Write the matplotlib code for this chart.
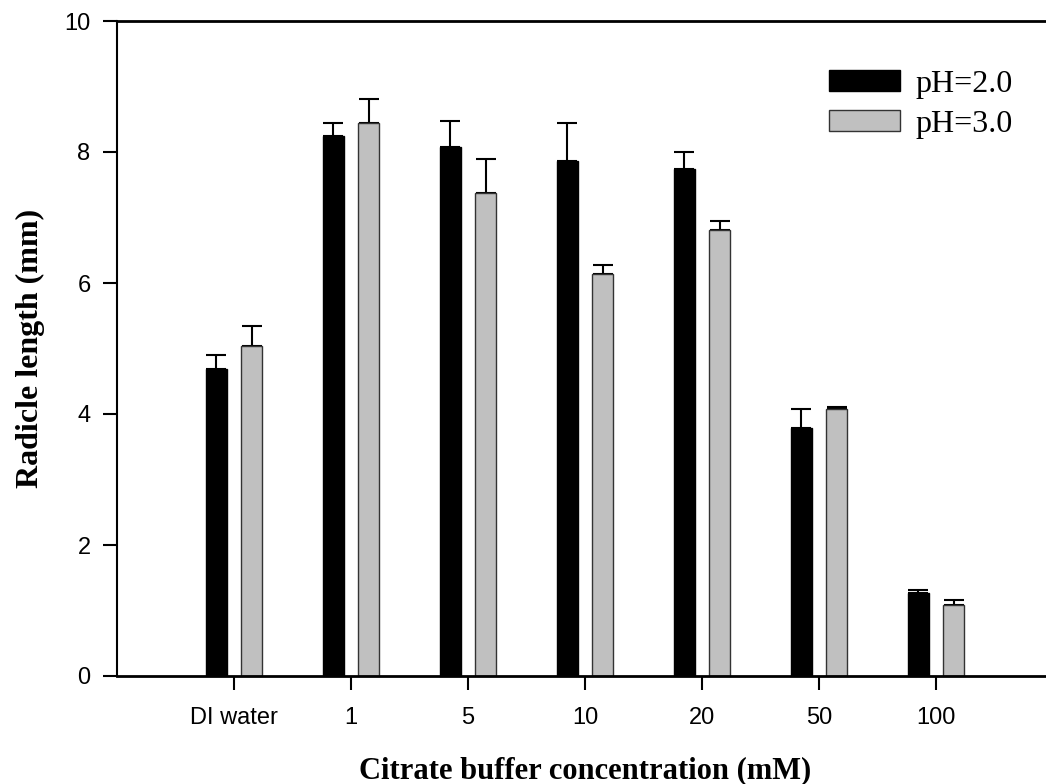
import matplotlib
matplotlib.use("Agg")
import matplotlib.pyplot as plt
import numpy as np

# data
categories = ["DI water", "1", "5", "10", "20", "50", "100"]
ph2_mean = [4.68, 8.25, 8.07, 7.87, 7.74, 3.79, 1.27]
ph2_err = [0.22, 0.20, 0.41, 0.58, 0.26, 0.29, 0.04]
ph3_mean = [5.04, 8.45, 7.37, 6.14, 6.81, 4.07, 1.09]
ph3_err = [0.31, 0.36, 0.53, 0.13, 0.14, 0.04, 0.07]
series_labels = ["pH=2.0", "pH=3.0"]

fig = plt.figure(figsize=(10.46, 7.84), dpi=100)
ax = fig.add_axes([117 / 1046, 1 - 676 / 784, (1053 - 117) / 1046, 655 / 784])

x = np.arange(len(categories))
w = 0.18
off = 0.15
ekw = dict(ecolor="black", elinewidth=1.5, capsize=7, capthick=1.5)

ax.bar(x - off, ph2_mean, w, color="black", edgecolor="black", linewidth=1,
       label=series_labels[0], zorder=2)
ax.errorbar(x - off, ph2_mean, yerr=[np.zeros(len(x)), ph2_err], fmt="none",
            zorder=1, **ekw)
ax.bar(x + off, ph3_mean, w, color="#c0c0c0", edgecolor="#333333", linewidth=1,
       label=series_labels[1], zorder=2)
ax.errorbar(x + off, ph3_mean, yerr=[np.zeros(len(x)), ph3_err], fmt="none",
            zorder=1, **ekw)

ax.set_xlim(-1, 7)
ax.set_ylim(0, 10)
ax.set_yticks([0, 2, 4, 6, 8, 10])
ax.set_xticks(x)
ax.set_xticklabels(categories)

for s in ["top", "bottom"]:
    ax.spines[s].set_linewidth(2)
ax.spines["right"].set_visible(False)
ax.spines["left"].set_linewidth(1.5)

ax.tick_params(direction="out", length=10, width=1.5, labelsize=17, pad=9)
ax.tick_params(axis="x", pad=12)
for t in ax.get_xticklabels() + ax.get_yticklabels():
    t.set_family("Liberation Sans")

ax.set_ylabel("Radicle length (mm)", family="Liberation Serif", weight="bold",
              fontsize=23, labelpad=14)
ax.set_xlabel("Citrate buffer concentration (mM)", family="Liberation Serif",
              weight="bold", fontsize=22, labelpad=20)

leg = ax.legend(loc="upper left", bbox_to_anchor=(829 / 1046, 1 - 70 / 784),
                bbox_transform=fig.transFigure, frameon=False,
                prop={"family": "Liberation Serif", "size": 23},
                handlelength=2.22, handleheight=0.63, handletextpad=0.5,
                labelspacing=0.34, borderpad=0, borderaxespad=0)

fig.savefig("out.png", dpi=100)
